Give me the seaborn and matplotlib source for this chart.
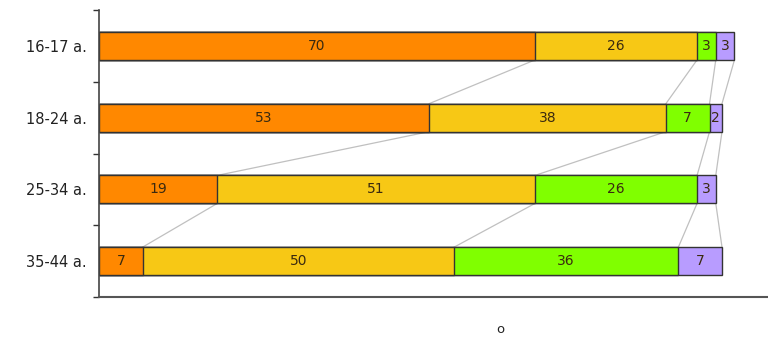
import matplotlib
matplotlib.use("Agg")
import matplotlib.pyplot as plt
import seaborn as sns
import numpy as np
import pandas as pd

categories = ["16-17 a.", "18-24 a.", "25-34 a.", "35-44 a."]
seg1 = [70, 53, 19, 7]
seg2 = [26, 38, 51, 50]
seg3 = [3, 7, 26, 36]
seg4 = [3, 2, 3, 7]
colors = ["#FF8800", "#F7C815", "#80FF00", "#B89CFF"]
xlabel = "o"

sns.set_theme(style="white")
plt.rcParams['font.family'] = ['DejaVu Sans']

segs = [seg1, seg2, seg3, seg4]
cums = np.cumsum(np.array(segs), axis=0)  # shape 4 x n

fig = plt.figure(figsize=(7.68, 3.42), dpi=100)
ax = fig.add_axes([99/768, 45/342, 1 - 99/768, 287/342])

h = 0.39
# draw from outermost cumulative to innermost
for i in range(3, -1, -1):
    df = pd.DataFrame({"cat": categories, "val": cums[i]})
    sns.barplot(data=df, y="cat", x="val", orient="h", color=colors[i],
                saturation=1, width=h, edgecolor="#333333", linewidth=1.0, ax=ax)

# connector lines
for i in range(4):
    for r in range(len(categories) - 1):
        ax.plot([cums[i][r], cums[i][r + 1]], [r + h / 2, r + 1 - h / 2],
                color="#c0c0c0", lw=0.9, zorder=0.5)

# labels
for i in range(4):
    for r in range(len(categories)):
        start = cums[i][r] - segs[i][r]
        ax.text(start + segs[i][r] / 2, r, str(segs[i][r]), ha="center", va="center",
                fontsize=10, color="#3a2a10")

ax.set_xlim(0, 669 / 6.23)
ax.set_ylim(3.5, -0.5)
ax.set_ylabel("")
ax.set_xlabel(xlabel, fontsize=9.5, color="#222222")
ax.xaxis.set_label_coords(0.6, -0.09)
ax.set_xticks([])
ax.set_yticks(range(len(categories)))
ax.set_yticklabels(categories, fontsize=10.5, color="#222222")
ax.set_yticks([-0.5, 0.5, 1.5, 2.5, 3.5], minor=True)
ax.tick_params(axis="y", which="major", length=0, pad=9)
ax.tick_params(axis="y", which="minor", left=True, length=4, width=1, color="#333333", direction="out")
for s in ["top", "right"]:
    ax.spines[s].set_visible(False)
ax.spines["left"].set_color("#444444")
ax.spines["left"].set_linewidth(1.2)
ax.spines["bottom"].set_color("#555555")
ax.spines["bottom"].set_linewidth(1.5)

fig.savefig("out.png", dpi=100)
